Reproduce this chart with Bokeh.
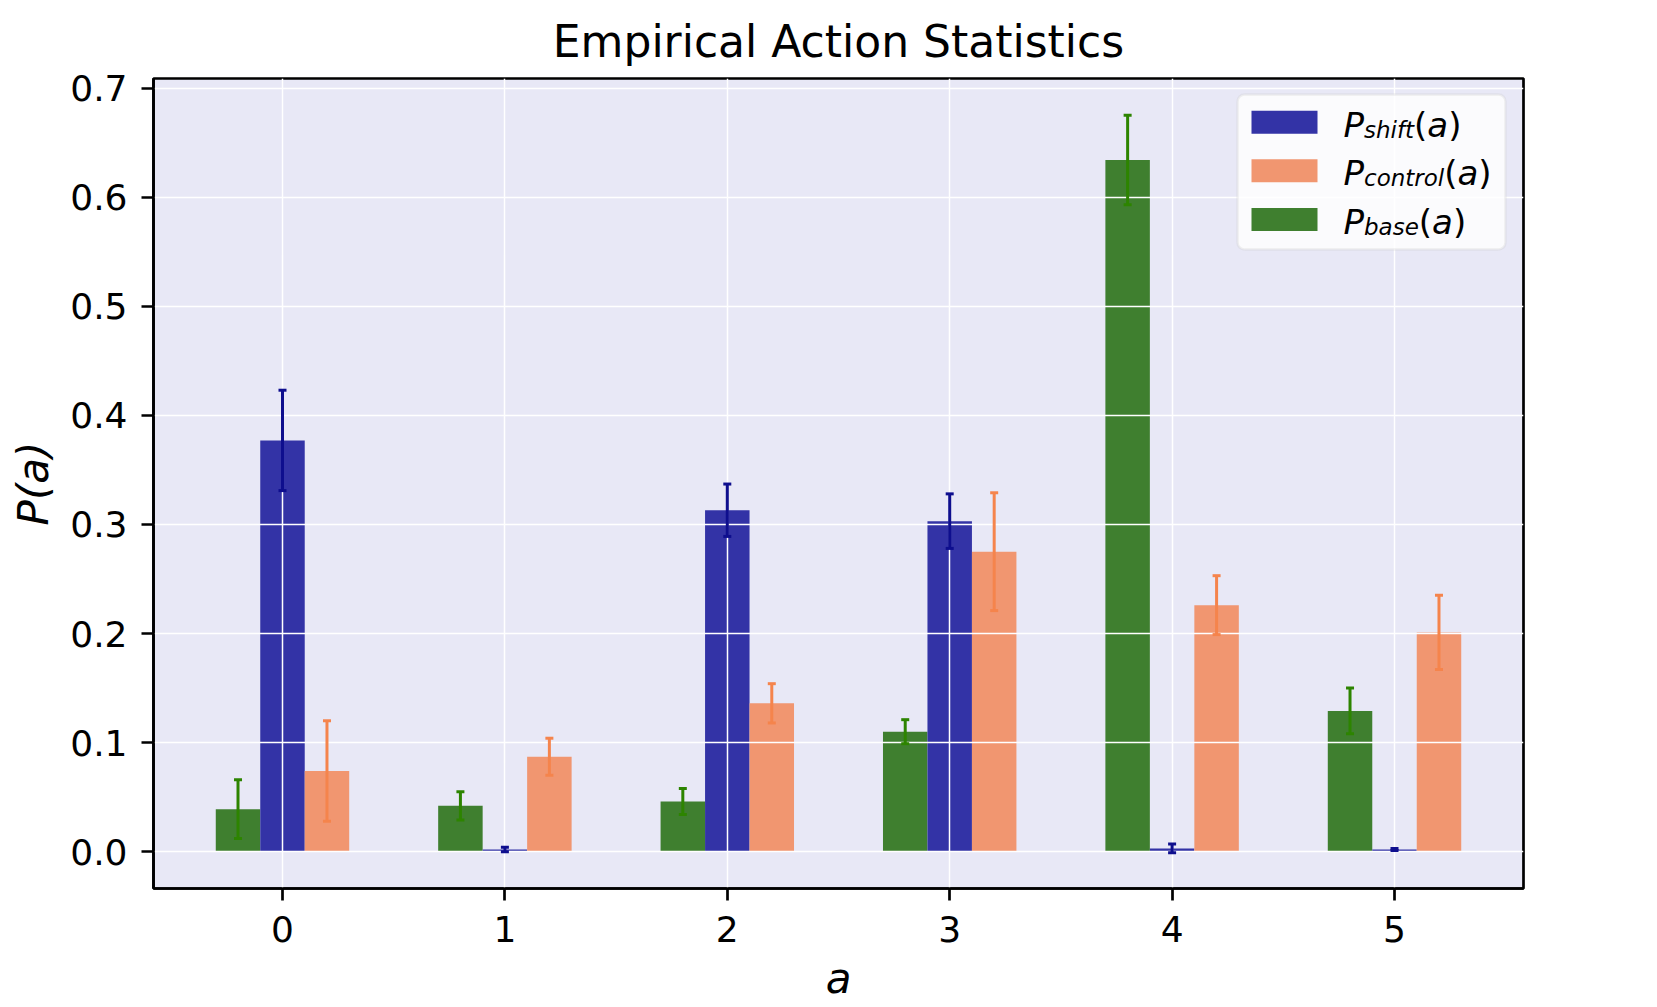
from bokeh.plotting import figure
from bokeh.models import (Range1d, FixedTicker, PrintfTickFormatter, Whisker, TeeHead,
                          ColumnDataSource, BoxAnnotation, Label)
from bokeh.embed import file_html
from bokeh.resources import INLINE

# ---------------- data ----------------
actions = [0, 1, 2, 3, 4, 5]
p_shift = [0.377, 0.002, 0.313, 0.303, 0.003, 0.002]
p_shift_err = [0.046, 0.002, 0.024, 0.025, 0.004, 0.001]
p_control = [0.074, 0.087, 0.136, 0.275, 0.226, 0.201]
p_control_err = [0.046, 0.017, 0.018, 0.054, 0.027, 0.034]
p_base = [0.039, 0.042, 0.046, 0.110, 0.634, 0.129]
p_base_err = [0.027, 0.013, 0.012, 0.011, 0.041, 0.021]
x_ticks = [0, 1, 2, 3, 4, 5]
y_ticks = [0.0, 0.1, 0.2, 0.3, 0.4, 0.5, 0.6, 0.7]

# ---------------- style ----------------
FONT = "DejaVu Sans"
BG = "#E8E8F6"
C_SHIFT, E_SHIFT = "#3333A6", "#0E0E8E"
C_CTRL, E_CTRL = "#F19670", "#F5844C"
C_BASE, E_BASE = "#3F7F2F", "#2D8400"
BAR_W = 0.2

# ranges like matplotlib autoscale (5% margins)
xmin = min(actions) - 1.5 * BAR_W
xmax = max(actions) + 1.5 * BAR_W
xm = 0.05 * (xmax - xmin)
x0, x1 = xmin - xm, xmax + xm
tops = [v + e for v, e in zip(p_shift + p_control + p_base,
                              p_shift_err + p_control_err + p_base_err)]
ymax = max(tops)
y0, y1 = -0.05 * ymax, ymax * 1.05

FW, FH = 1370, 810
BL, BT = 153, 78

p = figure(frame_width=FW, frame_height=FH,
           x_range=Range1d(x0, x1), y_range=Range1d(y0, y1),
           output_backend="svg", toolbar_location=None,
           min_border_left=BL, min_border_top=BT,
           min_border_right=1650 - BL - FW, min_border_bottom=119,
           background_fill_color=BG, border_fill_color="white",
           title="Empirical Action Statistics")

p.title.text_font = FONT
p.title.text_font_size = "44px"
p.title.text_font_style = "normal"
p.title.align = "center"
p.title.standoff = 23
p.title.text_color = "black"

p.outline_line_color = "black"
p.outline_line_width = 2.7
p.outline_line_alpha = 1.0

for ax in (p.xaxis[0], p.yaxis[0]):
    ax.axis_line_width = 2.7
    ax.axis_line_color = "black"
    ax.major_tick_line_width = 2.7
    ax.major_tick_line_color = "black"
    ax.major_tick_out = 12
    ax.major_tick_in = 0
    ax.minor_tick_line_color = None
    ax.major_label_text_font = FONT
    ax.major_label_text_font_size = "36px"
    ax.major_label_text_color = "black"
    ax.axis_label_text_font = FONT
    ax.axis_label_text_font_size = "42px"
    ax.axis_label_text_font_style = "italic"
    ax.axis_label_text_color = "black"

p.xaxis.ticker = FixedTicker(ticks=x_ticks)
p.yaxis.ticker = FixedTicker(ticks=y_ticks)
p.yaxis.formatter = PrintfTickFormatter(format="%.1f")
p.xaxis.axis_label = "a"
p.yaxis.axis_label = "P(a)"
p.xaxis.major_label_standoff = 15
p.xaxis.axis_label_standoff = 9
p.yaxis.major_label_standoff = 14
p.yaxis.axis_label_standoff = 9

p.xgrid.ticker = FixedTicker(ticks=x_ticks)
p.ygrid.ticker = FixedTicker(ticks=y_ticks)
for g in (p.xgrid[0], p.ygrid[0]):
    g.grid_line_color = "white"
    g.grid_line_width = 1.5
    g.grid_line_alpha = 1.0
    g.level = "underlay"

# ---------------- bars + error bars ----------------
series = [
    (p_base, p_base_err, -BAR_W, C_BASE, E_BASE),
    (p_shift, p_shift_err, 0.0, C_SHIFT, E_SHIFT),
    (p_control, p_control_err, BAR_W, C_CTRL, E_CTRL),
]
for vals, errs, off, col, ecol in series:
    xs = [a + off for a in actions]
    src = ColumnDataSource(dict(x=xs, top=vals,
                                upper=[v + e for v, e in zip(vals, errs)],
                                lower=[v - e for v, e in zip(vals, errs)]))
    r = p.vbar(x="x", top="top", bottom=0, width=BAR_W, source=src,
               fill_color=col, line_color=None)
    r.level = "image"
    w = Whisker(base="x", upper="upper", lower="lower", source=src,
                dimension="height", line_color=ecol, line_width=3,
                upper_head=TeeHead(size=8, line_color=ecol, line_width=3),
                lower_head=TeeHead(size=8, line_color=ecol, line_width=3),
                level="glyph")
    p.add_layout(w)

# ---------------- legend (custom, for subscripts) ----------------
def dx(px):  # page pixel -> data x
    return x0 + (px - BL) / FW * (x1 - x0)

def dy(py):  # page pixel -> data y
    return y1 - (py - BT) / FH * (y1 - y0)

p.add_layout(BoxAnnotation(left=dx(1237), right=dx(1505), top=dy(94), bottom=dy(249),
                           fill_color="white", fill_alpha=0.8,
                           line_color="#CCCCCC", line_width=2.5, border_radius=7,
                           level="annotation"))

W = {"P": 0.603, "s": 0.521, "h": 0.634, "i": 0.278, "f": 0.352, "t": 0.392,
     "c": 0.550, "o": 0.612, "n": 0.634, "r": 0.411, "l": 0.278, "b": 0.635,
     "a": 0.613, "e": 0.615, "(": 0.390, ")": 0.390}
FS, SS = 34, 23
legend_rows = [("shift", C_SHIFT), ("control", C_CTRL), ("base", C_BASE)]
row_centers = [121.7, 170.3, 219.0]


def put(x, y, txt, size, style):
    p.add_layout(Label(x=dx(x), y=dy(y), text=txt, text_font=FONT,
                       text_font_size=f"{size}px", text_font_style=style,
                       text_baseline="alphabetic", text_align="left", text_color="black"))


for (sub, col), cy in zip(legend_rows, row_centers):
    p.add_layout(BoxAnnotation(left=dx(1251), right=dx(1317), top=dy(cy - 11.5),
                               bottom=dy(cy + 11.5), fill_color=col, fill_alpha=1.0,
                               line_color=None, level="annotation"))
    base_y = cy + 2.5
    tx = 1343
    put(tx, base_y, "P", FS, "italic")
    sx = tx + W["P"] * FS
    put(sx, base_y + 5, sub, SS, "italic")
    cx = sx + sum(W[ch] for ch in sub) * SS
    put(cx, base_y, "(", FS, "normal")
    cx += W["("] * FS
    put(cx, base_y, "a", FS, "italic")
    cx += W["a"] * FS
    put(cx, base_y, ")", FS, "normal")

open("out.html", "w").write(file_html(p, INLINE))
